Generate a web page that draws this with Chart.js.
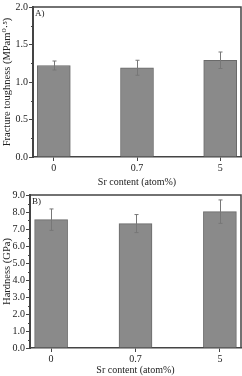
<!DOCTYPE html>
<html>
<head>
<meta charset="utf-8">
<script src="https://cdn.jsdelivr.net/npm/chart.js@4.4.1/dist/chart.umd.min.js"></script>
<style>
  body { margin: 0; background: #fff; }
  .ChartBox { position: relative; width: 242px; height: 188px; }
</style>
</head>
<body>
<div class="ChartBox"><canvas id="ToughnessChart"></canvas></div>
<div class="ChartBox"><canvas id="HardnessChart"></canvas></div>
<script>
const categories = ["0", "0.7", "5"];
const toughness = [1.22, 1.19, 1.29];
const toughnessErr = [0.06, 0.1, 0.11];
const hardness = [7.55, 7.32, 8.02];
const hardnessErr = [0.63, 0.53, 0.69];
const toughnessTicks = [0, 0.5, 1, 1.5, 2];
const hardnessTicks = [0, 1, 2, 3, 4, 5, 6, 7, 8, 9];

const serif = "'Liberation Serif', 'DejaVu Serif', serif";
const axisColor = "#444";

// error bars, frame, minor ticks and panel letter
const panelPlugin = {
  id: "panel",
  afterDatasetsDraw(chart, args, opts) {
    const { ctx, chartArea } = chart;
    const yScale = chart.scales.y;
    const meta = chart.getDatasetMeta(0);
    const values = chart.data.datasets[0].data;

    ctx.save();
    ctx.strokeStyle = "#777";
    ctx.lineWidth = 1;
    meta.data.forEach((bar, i) => {
      const v = values[i].y;
      const x = Math.round(bar.x) + 0.5;
      const top = yScale.getPixelForValue(v + opts.errors[i]);
      const bottom = yScale.getPixelForValue(v - opts.errors[i]);
      ctx.beginPath();
      ctx.moveTo(x, top);
      ctx.lineTo(x, bottom);
      ctx.moveTo(x - 2, top);
      ctx.lineTo(x + 2, top);
      ctx.moveTo(x - 2, bottom);
      ctx.lineTo(x + 2, bottom);
      ctx.stroke();
    });

    ctx.strokeStyle = axisColor;
    ctx.lineWidth = 1.5;
    ctx.beginPath();
    ctx.moveTo(chartArea.left, chartArea.top);
    ctx.lineTo(chartArea.right, chartArea.top);
    ctx.lineTo(chartArea.right, chartArea.bottom);
    ctx.stroke();

    ctx.lineWidth = 1;
    ctx.beginPath();
    for (let v = yScale.min + opts.minor; v < yScale.max; v += opts.minor * 2) {
      const y = Math.round(yScale.getPixelForValue(v)) + 0.5;
      ctx.moveTo(chartArea.left - 2, y);
      ctx.lineTo(chartArea.left, y);
    }
    ctx.stroke();

    ctx.fillStyle = "#222";
    ctx.font = "9px " + serif;
    ctx.textBaseline = "top";
    ctx.fillText(opts.letter, chartArea.left + 2, chartArea.top + 2);
    ctx.restore();
  },
};

function buildChart(canvasId, values, errors, ticks, setup) {
  return new Chart(document.getElementById(canvasId), {
    type: "bar",
    data: {
      datasets: [
        {
          data: values.map((v, i) => ({ x: i, y: v })),
          backgroundColor: "#8a8a8a",
          borderColor: "#6a6a6a",
          borderWidth: 1,
          barThickness: 33,
        },
      ],
    },
    options: {
      responsive: true,
      maintainAspectRatio: false,
      animation: false,
      layout: { padding: { top: setup.top, right: 1, left: 0, bottom: 0 } },
      plugins: {
        legend: { display: false },
        tooltip: { enabled: false },
        panel: { errors, minor: setup.minor, letter: setup.letter },
      },
      scales: {
        x: {
          type: "linear",
          min: -0.25,
          max: 2.25,
          offset: false,
          afterBuildTicks: (scale) => {
            scale.ticks = categories.map((c, i) => ({ value: i }));
          },
          afterFit: (scale) => {
            scale.height = setup.xHeight;
          },
          ticks: {
            callback: (v) => categories[v],
            color: "#222",
            font: { family: serif, size: 10 },
            padding: 1,
            maxRotation: 0,
          },
          grid: {
            offset: false,
            drawOnChartArea: false,
            drawTicks: true,
            tickLength: 4,
            color: axisColor,
          },
          border: { color: axisColor, width: 1.5 },
          title: {
            display: true,
            text: "Sr content (atom%)",
            color: "#222",
            font: { family: serif, size: 10 },
            padding: { top: 0, bottom: 0 },
          },
        },
        y: {
          min: ticks[0],
          max: ticks[ticks.length - 1],
          afterBuildTicks: (scale) => {
            scale.ticks = ticks.map((t) => ({ value: t }));
          },
          afterFit: (scale) => {
            scale.width = setup.yWidth;
          },
          ticks: {
            callback: (v) => v.toFixed(1),
            color: "#222",
            font: { family: serif, size: 10 },
            padding: 1,
          },
          grid: {
            drawOnChartArea: false,
            drawTicks: true,
            tickLength: 4,
            color: axisColor,
          },
          border: { color: axisColor, width: 2 },
          title: {
            display: true,
            text: setup.yTitle,
            color: "#222",
            font: { family: serif, size: 10.5 },
            padding: { top: 1, bottom: 0 },
          },
        },
      },
    },
    plugins: [panelPlugin],
  });
}

buildChart("ToughnessChart", toughness, toughnessErr, toughnessTicks, {
  yTitle: "Fracture toughness (MPam\u2070\u00b7\u2075)",
  letter: "A)",
  minor: 0.25,
  top: 3,
  yWidth: 33,
  xHeight: 31,
});

buildChart("HardnessChart", hardness, hardnessErr, hardnessTicks, {
  yTitle: "Hardness (GPa)",
  letter: "B)",
  minor: 0.5,
  top: 5,
  yWidth: 30,
  xHeight: 28,
});
</script>
</body>
</html>
